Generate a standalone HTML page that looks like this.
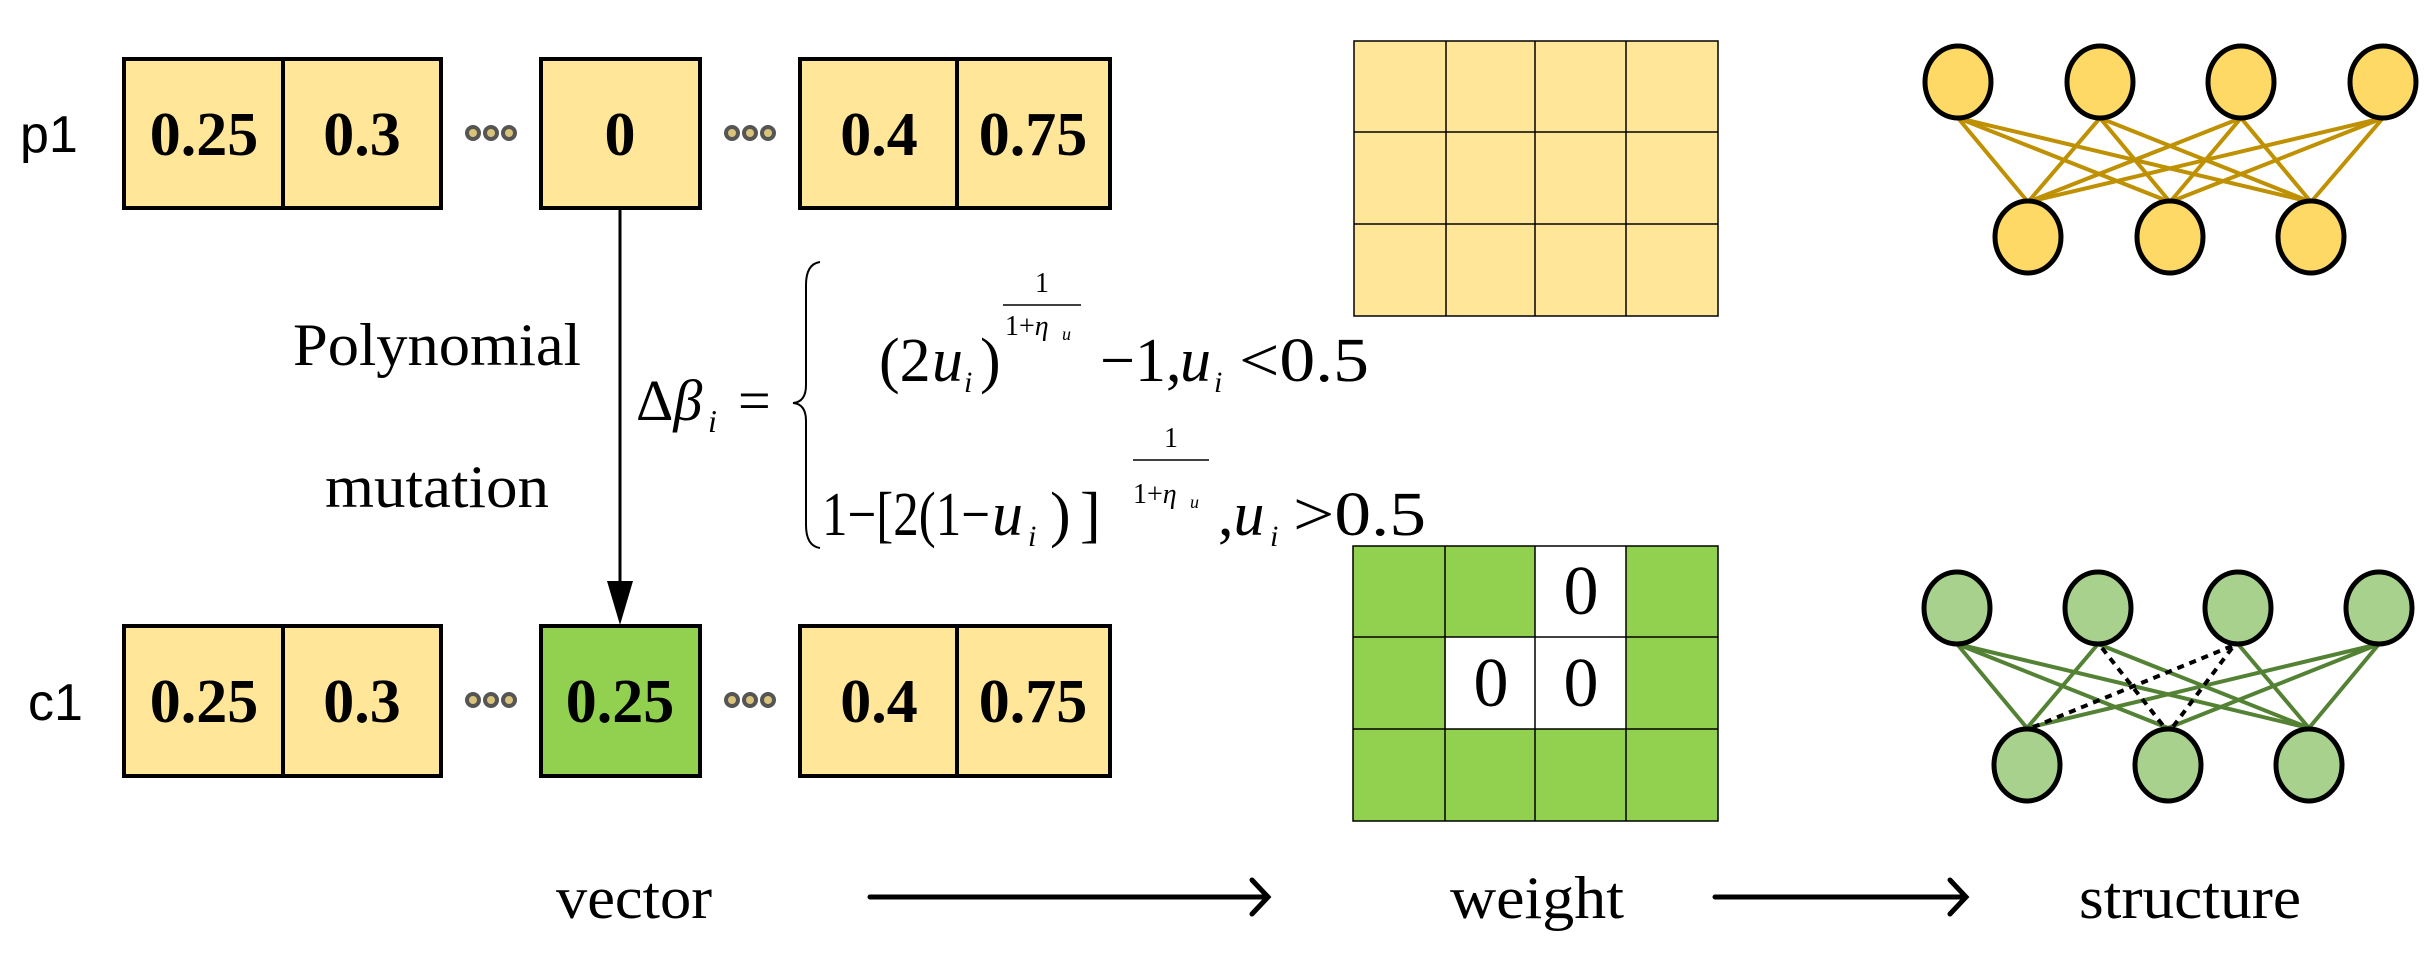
<!DOCTYPE html>
<html><head><meta charset="utf-8"><style>
html,body{margin:0;padding:0;background:#fff;}
svg{display:block;}
</style></head><body>
<svg width="2434" height="969" viewBox="0 0 2434 969" xmlns="http://www.w3.org/2000/svg">
<defs>
<g id="dots"><circle cx="0" cy="0" r="6" fill="#d9c27a" stroke="#555" stroke-width="4"/><circle cx="18" cy="0" r="6" fill="#d9c27a" stroke="#555" stroke-width="4"/><circle cx="36" cy="0" r="6" fill="#d9c27a" stroke="#555" stroke-width="4"/></g>
</defs>
<text font-family="Liberation Sans, sans-serif" font-size="52" x="20" y="152">p1</text>
<text font-family="Liberation Sans, sans-serif" font-size="52" x="28" y="720">c1</text>
<g stroke="#000" stroke-width="4">
<rect x="124" y="59" width="159" height="149" fill="#FFE699"/>
<rect x="283" y="59" width="158" height="149" fill="#FFE699"/>
<rect x="541" y="59" width="159" height="149" fill="#FFE699"/>
<rect x="800" y="59" width="157" height="149" fill="#FFE699"/>
<rect x="957" y="59" width="153" height="149" fill="#FFE699"/>
<rect x="124" y="626" width="159" height="150" fill="#FFE699"/>
<rect x="283" y="626" width="158" height="150" fill="#FFE699"/>
<rect x="541" y="626" width="159" height="150" fill="#92D050"/>
<rect x="800" y="626" width="157" height="150" fill="#FFE699"/>
<rect x="957" y="626" width="153" height="150" fill="#FFE699"/>
</g>
<g font-family="Liberation Serif, serif" font-weight="bold" font-size="62" text-anchor="middle">
<text x="204" y="155">0.25</text>
<text x="362" y="155">0.3</text>
<text x="620" y="155">0</text>
<text x="879" y="155">0.4</text>
<text x="1033" y="155">0.75</text>
<text x="204" y="722">0.25</text>
<text x="362" y="722">0.3</text>
<text x="620" y="722">0.25</text>
<text x="879" y="722">0.4</text>
<text x="1033" y="722">0.75</text>
</g>
<use href="#dots" x="473" y="133"/>
<use href="#dots" x="732" y="133"/>
<use href="#dots" x="473" y="700"/>
<use href="#dots" x="732" y="700"/>
<line x1="620" y1="208" x2="620" y2="590" stroke="#000" stroke-width="3"/>
<polygon points="607,581 633,581 620,625" fill="#000"/>
<g font-family="Liberation Serif, serif" fill="#000">
<text x="437" y="365" font-size="60" text-anchor="middle" textLength="288" lengthAdjust="spacingAndGlyphs">Polynomial</text>
<text x="437" y="507" font-size="60" text-anchor="middle" textLength="224" lengthAdjust="spacingAndGlyphs">mutation</text>
<text x="636" y="420" font-size="58">Δ<tspan font-style="italic">β</tspan></text>
<text x="708" y="432" font-size="32" font-style="italic">i</text>
<text x="738" y="420" font-size="58">=</text>
<text x="879" y="381" font-size="62">(2</text>
<text x="932" y="381" font-size="62" font-style="italic">u</text>
<text x="964" y="392" font-size="30" font-style="italic">i</text>
<text x="980" y="381" font-size="62">)</text>
<text x="1042" y="292" font-size="28" text-anchor="middle">1</text>
<text x="1005" y="335" font-size="28">1+<tspan font-style="italic">η</tspan></text>
<text x="1062" y="340" font-size="18" font-style="italic">u</text>
<text x="1100" y="381" font-size="62">−1,</text>
<text x="1180" y="381" font-size="62" font-style="italic">u</text>
<text x="1214" y="392" font-size="30" font-style="italic">i</text>
<text x="1239" y="381" font-size="62" textLength="130" lengthAdjust="spacingAndGlyphs">&lt;0.5</text>
<text x="822" y="535" font-size="62" textLength="168" lengthAdjust="spacingAndGlyphs">1−[2(1−</text>
<text x="992" y="535" font-size="62" font-style="italic">u</text>
<text x="1028" y="546" font-size="30" font-style="italic">i</text>
<text x="1050" y="535" font-size="62">)</text>
<text x="1080" y="535" font-size="62">]</text>
<text x="1171" y="447" font-size="28" text-anchor="middle">1</text>
<text x="1133" y="503" font-size="28">1+<tspan font-style="italic">η</tspan></text>
<text x="1190" y="508" font-size="18" font-style="italic">u</text>
<text x="1218" y="535" font-size="62">,<tspan font-style="italic">u</tspan></text>
<text x="1270" y="546" font-size="30" font-style="italic">i</text>
<text x="1293" y="535" font-size="62" textLength="133" lengthAdjust="spacingAndGlyphs">&gt;0.5</text>
<text x="634" y="918" font-size="60" text-anchor="middle" textLength="156" lengthAdjust="spacingAndGlyphs">vector</text>
<text x="1537" y="918" font-size="60" text-anchor="middle" textLength="174" lengthAdjust="spacingAndGlyphs">weight</text>
<text x="2190" y="918" font-size="60" text-anchor="middle" textLength="222" lengthAdjust="spacingAndGlyphs">structure</text>
</g>
<line x1="1003" y1="305" x2="1081" y2="305" stroke="#000" stroke-width="1.5"/>
<line x1="1133" y1="460" x2="1209" y2="460" stroke="#000" stroke-width="1.5"/>
<path d="M820,262 Q806,264 806,285 L806,385 Q806,402 793,403 Q806,404 806,421 L806,525 Q806,546 820,548" fill="none" stroke="#000" stroke-width="2"/>
<rect x="1354" y="41" width="364" height="275" fill="#FFE699"/>
<g stroke="#000" stroke-width="1.5" fill="none">
<rect x="1354" y="41" width="364" height="275"/>
<line x1="1446" y1="41" x2="1446" y2="316"/><line x1="1535" y1="41" x2="1535" y2="316"/><line x1="1626" y1="41" x2="1626" y2="316"/>
<line x1="1354" y1="132" x2="1718" y2="132"/><line x1="1354" y1="224" x2="1718" y2="224"/>
</g>
<rect x="1353" y="546" width="365" height="275" fill="#92D050"/>
<rect x="1535" y="546" width="91" height="91" fill="#fff"/>
<rect x="1446" y="637" width="180" height="92" fill="#fff"/>
<g stroke="#000" stroke-width="1.5" fill="none">
<rect x="1353" y="546" width="365" height="275"/>
<line x1="1445" y1="546" x2="1445" y2="821"/><line x1="1535" y1="546" x2="1535" y2="821"/><line x1="1626" y1="546" x2="1626" y2="821"/>
<line x1="1353" y1="637" x2="1718" y2="637"/><line x1="1353" y1="729" x2="1718" y2="729"/>
</g>
<g font-family="Liberation Serif, serif" font-size="70" text-anchor="middle">
<text x="1581" y="614">0</text>
<text x="1491" y="706">0</text>
<text x="1581" y="706">0</text>
</g>
<g stroke="#BF9000" stroke-width="4">
<line x1="1958" y1="118" x2="2028" y2="202"/><line x1="1958" y1="118" x2="2170" y2="202"/><line x1="1958" y1="118" x2="2311" y2="202"/>
<line x1="2100" y1="118" x2="2028" y2="202"/><line x1="2100" y1="118" x2="2170" y2="202"/><line x1="2100" y1="118" x2="2311" y2="202"/>
<line x1="2241" y1="118" x2="2028" y2="202"/><line x1="2241" y1="118" x2="2170" y2="202"/><line x1="2241" y1="118" x2="2311" y2="202"/>
<line x1="2383" y1="118" x2="2028" y2="202"/><line x1="2383" y1="118" x2="2170" y2="202"/><line x1="2383" y1="118" x2="2311" y2="202"/>
</g>
<g fill="#FFD966" stroke="#000" stroke-width="5">
<ellipse cx="1958" cy="82" rx="33" ry="36"/><ellipse cx="2100" cy="82" rx="33" ry="36"/><ellipse cx="2241" cy="82" rx="33" ry="36"/><ellipse cx="2383" cy="82" rx="33" ry="36"/>
<ellipse cx="2028" cy="237" rx="33" ry="36"/><ellipse cx="2170" cy="237" rx="33" ry="36"/><ellipse cx="2311" cy="237" rx="33" ry="36"/>
</g>
<g stroke="#548235" stroke-width="4">
<line x1="1957" y1="644" x2="2027" y2="728"/><line x1="1957" y1="644" x2="2168" y2="728"/><line x1="1957" y1="644" x2="2309" y2="728"/>
<line x1="2098" y1="644" x2="2027" y2="728"/><line x1="2098" y1="644" x2="2309" y2="728"/>
<line x1="2238" y1="644" x2="2309" y2="728"/>
<line x1="2379" y1="644" x2="2027" y2="728"/><line x1="2379" y1="644" x2="2168" y2="728"/><line x1="2379" y1="644" x2="2309" y2="728"/>
</g>
<g stroke="#000" stroke-width="4" stroke-dasharray="7,6">
<line x1="2102" y1="648" x2="2165" y2="728"/>
<line x1="2232" y1="646" x2="2031" y2="728"/>
<line x1="2232" y1="648" x2="2172" y2="728"/>
</g>
<g fill="#A9D18E" stroke="#000" stroke-width="5">
<ellipse cx="1957" cy="608" rx="33" ry="36"/><ellipse cx="2098" cy="608" rx="33" ry="36"/><ellipse cx="2238" cy="608" rx="33" ry="36"/><ellipse cx="2379" cy="608" rx="33" ry="36"/>
<ellipse cx="2027" cy="765" rx="33" ry="36"/><ellipse cx="2168" cy="765" rx="33" ry="36"/><ellipse cx="2309" cy="765" rx="33" ry="36"/>
</g>
<g stroke="#000" stroke-width="5" fill="none" stroke-linecap="round">
<line x1="870" y1="897" x2="1266" y2="897"/><polyline points="1252,880 1268,897 1252,914"/>
<line x1="1715" y1="897" x2="1964" y2="897"/><polyline points="1950,880 1966,897 1950,914"/>
</g>
</svg>
</body></html>
